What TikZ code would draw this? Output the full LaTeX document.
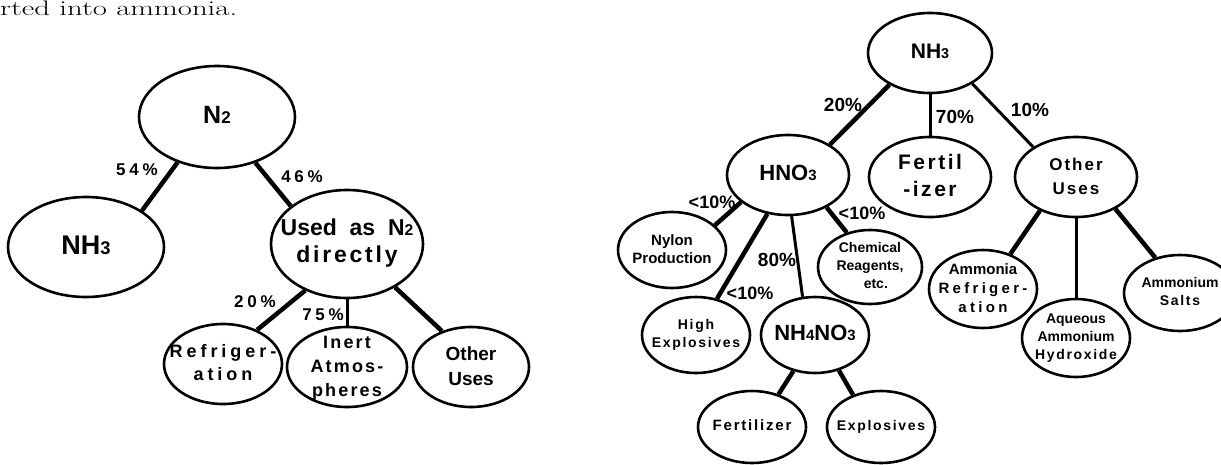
\documentclass[tikz,border=0pt]{standalone}
\usepackage{fontspec}
\usepackage{graphicx}
\usetikzlibrary{shapes.geometric}

\newfontfamily\lab{Liberation Sans}
\newfontfamily\labw[LetterSpace=12]{Liberation Sans}
\newfontfamily\labx[LetterSpace=22]{Liberation Sans}
\newcommand\fs[2]{\fontsize{#1}{#2}\selectfont}
\newcommand\lo[1]{\scalebox{0.68}{#1}}
% text that may run over the ellipse
\newcommand\inside[1]{\makebox[0pt]{\raisebox{-0.27em}[0pt][0pt]{\begin{tabular}{@{}c@{}}#1\end{tabular}}}}

\tikzset{
  blob/.style 2 args={ellipse,draw,line width=2.6pt,inner sep=0pt,
    minimum width=#1,minimum height=#2},
  pct/.style={inner sep=0pt},
  link/.style={line width=4.5pt},
  thin link/.style={line width=3pt}
}

\begin{document}
\begin{tikzpicture}
  [x=1pt,y=-1pt]
  \useasboundingbox (0,0) rectangle (1221,464);
  \node[anchor=base west,inner sep=0pt] (txt) at (0,15)
    {\resizebox{237pt}{\height}{\fs{21}{21}rted into ammonia.}};

  % nitrogen tree
  \node[blob={156}{102},font=\lab\bfseries\fs{25}{28}] (n2)    at (217,117) {\inside{N\lo{2}}};
  \node[blob={156}{100},font=\lab\bfseries\fs{27}{30}] (nh3)   at (86,247)  {\inside{NH\lo{3}}};
  \node[blob={152}{108},font=\lab\bfseries\fs{23}{27}] (used)  at (347,244) {\inside{Used\ \ as\ \ N\lo{2}\\\labw directly}};
  \node[blob={118}{80},font=\labx\bfseries\fs{18}{23}] (refr)  at (223,364) {\inside{Refriger-\\ation}};
  \node[blob={120}{80},font=\labw\bfseries\fs{18}{24}] (inert) at (347,367) {\inside{Inert\\Atmos-\\pheres}};
  \node[blob={116}{80},font=\lab\bfseries\fs{19}{25}]  (othl)  at (471,367) {\inside{Other\\Uses}};

  \node[pct,font=\labx\bfseries\fs{17}{17}] (p54) at (137,170) {54\%};
  \node[pct,font=\labx\bfseries\fs{17}{17}] (p46) at (302,177) {46\%};
  \node[pct,font=\labx\bfseries\fs{17}{17}] (p20) at (255,302) {20\%};
  \node[pct,font=\labx\bfseries\fs{17}{17}] (p75) at (323,315) {75\%};

  % ammonia tree
  \node[blob={124}{80},font=\lab\bfseries\fs{21}{24}]  (nh3r)   at (930,53)   {\inside{NH\lo{3}}};
  \node[blob={122}{80},font=\lab\bfseries\fs{22}{26}]  (hno3)   at (788,175)  {\inside{HNO\lo{3}}};
  \node[blob={122}{80},font=\labw\bfseries\fs{21}{27}] (fert)   at (930,177)  {\inside{Fertil\\-izer}};
  \node[blob={122}{80},font=\labw\bfseries\fs{17}{24}] (othr)   at (1076,177) {\inside{Other\\Uses}};
  \node[blob={108}{76},font=\lab\bfseries\fs{15}{18}]  (nylon)  at (672,250)  {\inside{Nylon\\Production}};
  \node[blob={104}{74},font=\lab\bfseries\fs{14}{18}]  (chem)   at (870,267)  {\inside{Chemical\\Reagents,\\\ \ \ etc.}};
  \node[blob={108}{76},font=\labw\bfseries\fs{14}{18}] (high)   at (696,335)  {\inside{High\\Explosives}};
  \node[blob={108}{76},font=\lab\bfseries\fs{22}{26}]  (nh4no3) at (815,335)  {\inside{NH\lo{4}NO\lo{3}}};
  \node[blob={108}{72},font=\labw\bfseries\fs{15}{16}] (fertz)  at (752,427)  {\inside{Fertilizer}};
  \node[blob={108}{72},font=\labw\bfseries\fs{14}{16}] (expl)   at (881,427)  {\inside{Explosives}};
  \node[blob={108}{78},font=\lab\bfseries\fs{15}{19}]  (ammr)   at (983,289)  {\inside{Ammonia\\\labx Refriger-\\\labx ation}};
  \node[blob={108}{78},font=\lab\bfseries\fs{14}{18}]  (aq)     at (1076,338) {\inside{Aqueous\\Ammonium\\\labw Hydroxide}};
  \node[blob={112}{76},font=\lab\bfseries\fs{14}{18}]  (salts)  at (1180,293) {\inside{Ammonium\\\labw Salts}};

  \node[pct,font=\lab\bfseries\fs{19}{19}] (p20r) at (843,105)  {20\%};
  \node[pct,font=\lab\bfseries\fs{19}{19}] (p70)  at (955,117)  {70\%};
  \node[pct,font=\lab\bfseries\fs{19}{19}] (p10)  at (1030,110) {10\%};
  \node[pct,font=\lab\bfseries\fs{18}{18}] (plt1) at (712,202)  {<10\%};
  \node[pct,font=\lab\bfseries\fs{18}{18}] (plt2) at (862,213)  {<10\%};
  \node[pct,font=\lab\bfseries\fs{19}{19}] (p80)  at (777,260)  {80\%};
  \node[pct,font=\lab\bfseries\fs{18}{18}] (plt3) at (750,293)  {<10\%};

\foreach \from/\to in
{n2.229/nh3.33, n2.310/used.146, used.228/refr.45, used.318/othl.129,
 nh3r.218/hno3.36, hno3.210/nylon.30, hno3.242/high.60, hno3.320/chem.124,
 nh4no3.239/fertz.51, nh4no3.304/expl.131, othr.223/ammr.52, othr.321/salts.125}
    \draw[link] (\from) -- (\to);
\foreach \from/\to in
{used.south/inert.north, nh3r.south/fert.north, othr.south/aq.north,
 nh3r.324/othr.145, hno3.275/nh4no3.108}
    \draw[thin link] (\from) -- (\to);
\end{tikzpicture}
\end{document}
